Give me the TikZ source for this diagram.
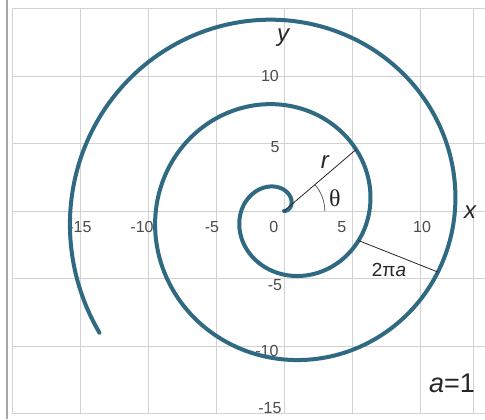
\documentclass[tikz,border=0pt]{standalone}
\usepackage{fontspec}
\setmainfont{Liberation Sans}
\newfontfamily\serifgreek{Liberation Serif}
\definecolor{spiralc}{RGB}{48,106,130}
\definecolor{gridc}{RGB}{210,210,210}
\definecolor{tickc}{RGB}{75,75,75}
\begin{document}
\begin{tikzpicture}[x=13.6pt,y=13.5pt,
 gridline/.style={draw=gridc, line width=0.9pt},
 ticklab/.style={text=tickc, font=\fontsize{16}{16}\selectfont, inner sep=0pt},
 axislab/.style={text=black!85, font=\fontsize{24}{24}\selectfont\itshape, inner sep=0pt},
 spiralline/.style={draw=spiralc, line width=4pt, line cap=round},
 thinline/.style={draw=black!85, line width=0.8pt}]
\useasboundingbox[fill=white] (-20.88,-15.41) rectangle (14.78,15.63);
\foreach \i in {-20,-15,...,10} \draw[gridline] (\i,-15) -- (\i,15);
\draw[gridline] (13.9,-15) -- (13.9,15);
\foreach \j in {-15,-10,...,15} \draw[gridline] (-20,\j) -- (14.78,\j);
\draw[draw=gray!70, line width=1.6pt] (-20.37,-15.41) -- (-20.37,15.63);
% tick labels
\node[ticklab] (xm15) at (-15.0,-1.19) {-15};
\node[ticklab] (xm10) at (-10.44,-1.19) {-10};
\node[ticklab] (xm5) at (-5.29,-1.19) {-5};
\node[ticklab] (x0) at (-0.74,-1.19) {0};
\node[ticklab] (x5) at (4.26,-1.19) {5};
\node[ticklab] (x10) at (10.15,-1.19) {10};
\node[ticklab] (y10) at (-1.03,10.0) {10};
\node[ticklab] (y5) at (-0.66,4.74) {5};
\node[ticklab] (ym5) at (-0.66,-5.48) {-5};
\node[ticklab] (ym10) at (-1.25,-10.37) {-10};
\node[ticklab] (ym15) at (-1.03,-14.59) {-15};
% spiral
\draw[spiralline] plot[domain=0:16.3, samples=500, smooth, variable=\t] ({\t*cos(\t r)},{\t*sin(\t r)});
\coordinate (O) at (0,0);
\coordinate (P) at ({(2*pi+0.71)*cos(0.71 r)},{(2*pi+0.71)*sin(0.71 r)});
\coordinate (A) at ({(2*pi-0.38)*cos(-0.38 r)},{(2*pi-0.38)*sin(-0.38 r)});
\coordinate (B) at ({(4*pi-0.38)*cos(-0.38 r)},{(4*pi-0.38)*sin(-0.38 r)});
\draw[thinline] (O) -- (P);
\draw[thinline] (A) -- (B);
\draw[draw=black!70, line width=0.7pt] (3,0) arc[start angle=0, end angle=40.7, radius=3];
% labels
\node[axislab] (ylab) at (-0.07,12.81) {y};
\node[axislab] (xlab) at (13.68,-0.07) {x};
\node[axislab] (rlab) at (3.01,3.63) {r};
\node[inner sep=0pt, text=black!85, font=\fontsize{24}{24}\serifgreek] (thlab) at (3.75,0.96) {θ};
\node[inner sep=0pt, text=black!85, font=\fontsize{19}{19}\selectfont] (tpa) at (7.72,-4.37) {2π\textit{a}};
\node[inner sep=0pt, text=black!85, font=\fontsize{27}{27}\selectfont] (aeq) at (12.35,-12.74) {\textit{a}=1};
\end{tikzpicture}
\end{document}
